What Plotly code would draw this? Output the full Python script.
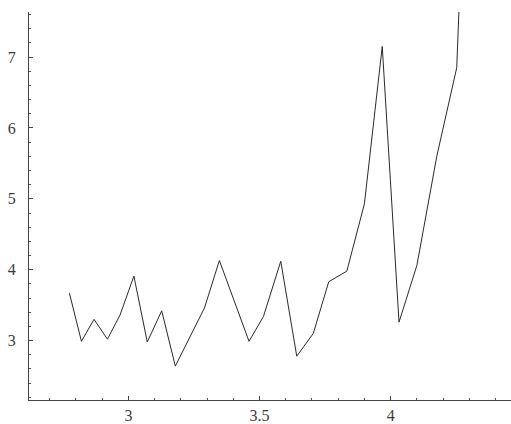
import plotly.graph_objects as go

# Series sampled along the horizontal variable
x_vals = [2.775, 2.821, 2.869, 2.920, 2.968, 3.021, 3.072, 3.127, 3.179,
          3.290, 3.347, 3.460, 3.515, 3.581, 3.642, 3.705, 3.764, 3.833,
          3.900, 3.968, 4.032, 4.100, 4.176, 4.252, 4.262]
y_vals = [3.67, 2.99, 3.30, 3.02, 3.36, 3.91, 2.98, 3.42, 2.64,
          3.46, 4.13, 2.99, 3.34, 4.12, 2.78, 3.10, 3.83, 3.98,
          4.93, 7.15, 3.26, 4.06, 5.60, 6.85, 7.80]

x_tickvals = [3, 3.5, 4]
x_ticktext = ["3", "3.5", "4"]
y_tickvals = [3, 4, 5, 6, 7]
y_ticktext = ["3", "4", "5", "6", "7"]

fig = go.Figure()
fig.add_trace(go.Scatter(
    x=x_vals, y=y_vals, mode="lines",
    line=dict(color="#2a2a2a", width=1),
    hoverinfo="skip", cliponaxis=True,
))

tick_font = dict(family="Liberation Serif, DejaVu Serif, serif", size=16, color="#3a3a3a")

fig.update_layout(
    width=511, height=424,
    margin=dict(l=29, r=0, t=12, b=22),
    paper_bgcolor="white", plot_bgcolor="white",
    showlegend=False,
    xaxis=dict(
        range=[2.621, 4.459],
        tickvals=x_tickvals, ticktext=x_ticktext,
        ticks="inside", ticklen=4, tickcolor="#444444", tickwidth=1,
        minor=dict(dtick=0.1, tick0=3, ticks="inside", ticklen=2, tickcolor="#555555"),
        showline=True, linecolor="#444444", linewidth=1,
        showgrid=False, zeroline=False,
        tickfont=tick_font, ticklabelstandoff=1,
    ),
    yaxis=dict(
        range=[2.162, 7.636],
        tickvals=y_tickvals, ticktext=y_ticktext,
        ticks="inside", ticklen=4, tickcolor="#444444", tickwidth=1,
        minor=dict(dtick=0.2, tick0=3, ticks="inside", ticklen=2, tickcolor="#555555"),
        showline=True, linecolor="#444444", linewidth=1,
        showgrid=False, zeroline=False,
        tickfont=tick_font, ticklabelstandoff=9,
    ),
)

fig.write_html("out.html")
